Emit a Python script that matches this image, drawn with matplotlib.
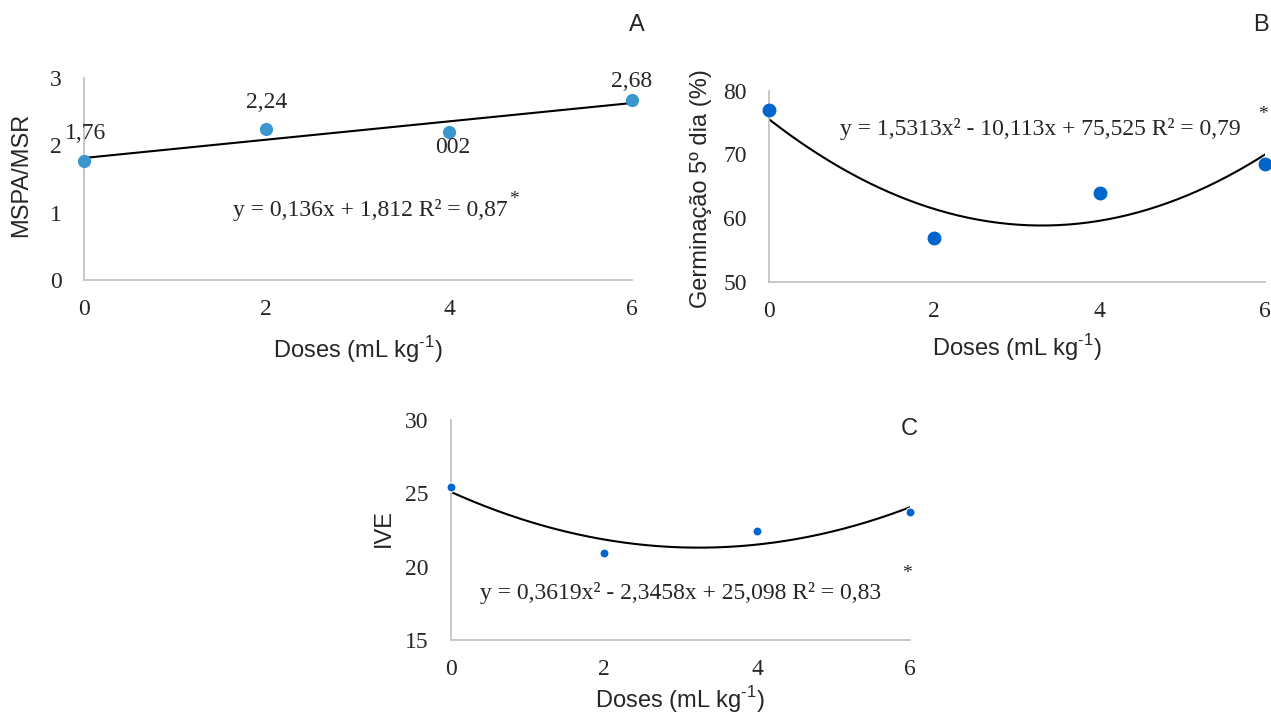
import numpy as np
import matplotlib.pyplot as plt

plt.rcParams['font.family'] = ['Liberation Sans', 'DejaVu Sans']
plt.rcParams['mathtext.fontset'] = 'custom'
plt.rcParams['mathtext.rm'] = 'Liberation Sans'
plt.rcParams['mathtext.sf'] = 'Liberation Sans'

SERIF = ['Liberation Serif', 'DejaVu Serif']
TXT = '#262626'
FS = 17

# dados
doses = [0, 2, 4, 6]

mspa_msr = [1.76, 2.24, 2.20, 2.68]
rotulos_a = ['1,76', '2,24', '002', '2,68']
coef_a = [0.136, 1.812]

germ5 = [76.9, 56.9, 64.0, 68.5]
coef_b = [1.5313, -10.113, 75.525]

ive = [25.4, 20.9, 22.4, 23.7]
coef_c = [0.3619, -2.3458, 25.098]

eq_a = 'y = 0,136x + 1,812 R² = 0,87'
eq_b = 'y = 1,5313x² - 10,113x + 75,525 R² = 0,79'
eq_c = 'y = 0,3619x² - 2,3458x + 25,098 R² = 0,83'

xlab = 'Doses (mL kg$^{\\text{-1}}$)'

fig = plt.figure(figsize=(12.71, 7.15), dpi=100)
axA = fig.add_axes([0.0659, 0.6084, 0.4310, 0.2825])
axB = fig.add_axes([0.6050, 0.6060, 0.3902, 0.2671])
axC = fig.add_axes([0.3547, 0.1049, 0.3613, 0.3077])


def estilo(ax, yticks, ylim):
    ax.set_xlim(0, 6)
    ax.set_ylim(*ylim)
    ax.set_xticks(doses)
    ax.set_yticks(yticks)
    for s in ['top', 'right']:
        ax.spines[s].set_visible(False)
    for s in ['left', 'bottom']:
        ax.spines[s].set_color('#BFBFBF')
        ax.spines[s].set_linewidth(1.2)
    ax.tick_params(length=0, labelsize=FS, labelcolor=TXT)
    ax.tick_params(axis='x', pad=14)
    ax.tick_params(axis='y', pad=16)
    for lb in ax.get_xticklabels() + ax.get_yticklabels():
        lb.set_family(SERIF)
    ax.patch.set_visible(False)


xs = np.linspace(0, 6, 200)

# --- A ---
estilo(axA, [0, 1, 2, 3], (0, 3))
axA.plot(xs, np.polyval(coef_a, xs), color='black', lw=1.5, zorder=2)
axA.plot(doses, mspa_msr, 'o', color='#3A97D0', ms=8.5, zorder=3, clip_on=False)
offs = [(1, 20), (0, 19.5), (3, -11), (0, 13)]
for x, y, t, o in zip(doses, mspa_msr, rotulos_a, offs):
    axA.annotate(t, (x, y), xytext=o, textcoords='offset points',
                 ha='center', va='center', fontsize=FS, family=SERIF, color=TXT)
axA.text(1.63, 1.04, eq_a, fontsize=FS, family=SERIF, color=TXT, va='center')
axA.text(4.66, 1.19, '*', fontsize=14, family=SERIF, color=TXT, va='center')
axA.set_xlabel(xlab, fontsize=FS, color=TXT, va='center')
axA.xaxis.set_label_coords(0.5, -0.3465)
axA.set_ylabel('MSPA/MSR', fontsize=FS, color=TXT, va='center')
axA.yaxis.set_label_coords(-0.1146, 0.52)
fig.text(636.6 / 1271, 1 - 25 / 715, 'A', fontsize=FS, color=TXT, ha='center', va='center')

# --- B ---
estilo(axB, [50, 60, 70, 80], (50, 80))
axB.plot(xs, np.polyval(coef_b, xs), color='black', lw=1.5, zorder=2)
axB.plot(doses, germ5, 'o', color='#0066CC', ms=9, zorder=3, clip_on=False)
axB.text(0.86, 73.95, eq_b, fontsize=FS, family=SERIF, color=TXT, va='center')
axB.text(5.92, 76.2, '*', fontsize=14, family=SERIF, color=TXT, va='center')
axB.set_xlabel(xlab, fontsize=FS, color=TXT, va='center')
axB.xaxis.set_label_coords(0.5, -0.347)
axB.set_ylabel('Germinação 5º dia (%)', fontsize=FS, color=TXT, va='center')
axB.yaxis.set_label_coords(-0.137, 0.49)
fig.text(1261 / 1271, 1 - 25 / 715, 'B', fontsize=FS, color=TXT, ha='center', va='center')

# --- C ---
estilo(axC, [15, 20, 25, 30], (15, 30))
axC.plot(xs, np.polyval(coef_c, xs), color='black', lw=1.5, zorder=2)
axC.plot(doses, ive, 'o', color='#0066CC', ms=6.5, mec='white', mew=0.8,
         zorder=3, clip_on=False)
axC.text(0.38, 18.2, eq_c, fontsize=FS, family=SERIF, color=TXT, va='center')
axC.text(5.9, 19.5, '*', fontsize=14, family=SERIF, color=TXT, va='center')
axC.set_xlabel(xlab, fontsize=FS, color=TXT, va='center')
axC.xaxis.set_label_coords(0.5, -0.272)
axC.set_ylabel('IVE', fontsize=FS, color=TXT, va='center')
axC.yaxis.set_label_coords(-0.1455, 0.51)
fig.text(909 / 1271, 1 - 429.3 / 715, 'C', fontsize=FS, color=TXT, ha='center', va='center')

fig.savefig('out.png', dpi=100)
